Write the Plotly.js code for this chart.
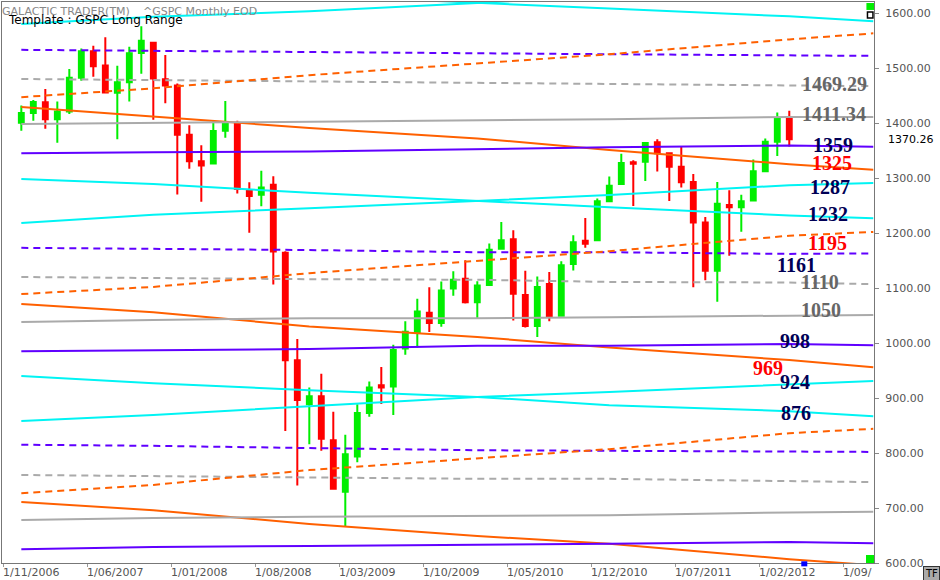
<!DOCTYPE html>
<html><head><meta charset="utf-8">
<script src="https://cdn.plot.ly/plotly-3.0.1.min.js"></script>
<style>html,body{margin:0;padding:0;background:#fff;overflow:hidden}#chart{width:940px;height:580px}</style>
</head><body><div id="chart"></div>
<script>
// ---- candle data (S&P 500 monthly) ----
const months = ['2006-12','2007-01','2007-02','2007-03','2007-04','2007-05','2007-06','2007-07','2007-08','2007-09','2007-10','2007-11','2007-12',
'2008-01','2008-02','2008-03','2008-04','2008-05','2008-06','2008-07','2008-08','2008-09','2008-10','2008-11','2008-12',
'2009-01','2009-02','2009-03','2009-04','2009-05','2009-06','2009-07','2009-08','2009-09','2009-10','2009-11','2009-12',
'2010-01','2010-02','2010-03','2010-04','2010-05','2010-06','2010-07','2010-08','2010-09','2010-10','2010-11','2010-12',
'2011-01','2011-02','2011-03','2011-04','2011-05','2011-06','2011-07','2011-08','2011-09','2011-10','2011-11','2011-12',
'2012-01','2012-02','2012-03','2012-04'];
const openV = [1400.6,1418.0,1437.9,1406.8,1420.8,1482.4,1530.6,1504.7,1455.2,1474.0,1527.3,1545.8,1479.6,
1468.0,1378.6,1330.5,1326.4,1386.0,1399.6,1276.7,1269.4,1287.8,1164.2,968.7,888.6,
903.0,823.1,729.6,793.6,872.7,923.3,920.8,990.2,1019.5,1054.9,1036.2,1098.9,
1116.6,1073.9,1105.4,1171.2,1188.6,1087.3,1031.1,1107.5,1049.7,1143.5,1185.7,1186.6,
1257.6,1289.1,1328.6,1329.5,1365.2,1345.2,1320.6,1292.6,1219.1,1131.2,1251.0,1246.9,
1258.9,1312.5,1365.9,1408.5];
const highV = [1431.8,1441.6,1461.6,1438.9,1498.0,1535.6,1540.6,1555.9,1503.9,1538.7,1576.1,1545.8,1523.6,
1471.8,1396.0,1359.7,1404.6,1440.2,1404.1,1292.2,1313.2,1303.0,1167.0,1007.5,918.9,
943.9,875.0,833.0,888.7,930.2,956.2,996.7,1039.5,1080.4,1101.4,1112.0,1130.4,
1150.5,1112.4,1180.7,1219.8,1205.1,1131.2,1121.0,1129.2,1148.7,1196.1,1227.1,1262.6,
1302.7,1344.1,1332.3,1364.6,1370.6,1345.2,1356.5,1307.4,1229.3,1292.7,1277.6,1269.4,
1333.5,1371.9,1419.2,1422.4];
const lowV = [1385.9,1404.0,1389.4,1364.0,1416.4,1476.7,1484.2,1454.3,1370.6,1439.3,1489.6,1406.1,1435.7,
1270.1,1316.8,1257.0,1324.4,1373.1,1272.0,1200.4,1248.6,1106.4,839.8,741.0,815.7,
804.2,734.5,666.8,783.3,866.1,888.9,869.3,978.5,992.0,1020.2,1029.4,1085.9,
1071.6,1044.5,1105.4,1170.7,1040.8,1028.3,1010.9,1039.7,1049.7,1131.9,1173.0,1186.6,
1257.6,1289.1,1249.1,1294.7,1311.8,1258.1,1282.9,1101.5,1114.2,1074.8,1158.7,1202.4,
1258.9,1312.5,1340.0,1357.4];
const closeV = [1418.3,1438.2,1406.8,1420.9,1482.4,1530.6,1503.4,1455.3,1474.0,1526.8,1549.4,1481.1,1468.4,
1378.6,1330.6,1322.7,1385.6,1400.4,1280.0,1267.4,1282.8,1166.4,968.8,896.2,903.3,
825.9,735.1,797.9,872.8,919.1,919.3,987.5,1020.6,1057.1,1036.2,1095.6,1115.1,
1073.9,1104.5,1169.4,1186.7,1089.4,1030.7,1101.6,1049.3,1141.2,1183.3,1180.6,1257.6,
1286.1,1327.2,1325.8,1363.6,1345.2,1320.6,1292.3,1218.9,1131.4,1253.3,1247.0,1257.6,
1312.4,1365.7,1408.5,1370.26];

// ---- level lines, read at these months ----
const lineMonths = ['2006-12','2007-11','2008-12','2010-02','2011-01','2012-04','2012-11'];
const cyanTopAsc   = [1580,1593,1603,1618,1632,1645,1652];
const cyanTopDesc  = [1660,1645,1632,1618,1608,1594,1585];
const purpleDashU  = [1533,1531,1529,1526,1525,1523,1522];
const grayDashU    = [1480,1478,1475,1473,1471,1469,1467];
const orangeDashU  = [1447,1463,1487,1509,1525,1552,1563];
const orangeSolidU = [1429,1411,1391,1372,1351,1325,1315];
const graySolidU   = [1398,1400,1402,1405,1407,1411,1411];
const purpleSolidU = [1345,1347,1348,1353,1356,1359,1357];
const cyanMidDesc  = [1298,1289,1273,1258,1247,1232,1227];
const cyanMidAsc   = [1218,1233,1245,1258,1269,1287,1291];
const purpleDashM  = [1173,1171,1169,1165,1165,1162,1163];
const grayDashM    = [1120,1118,1116,1115,1111,1110,1107];
const orangeDashM  = [1089,1102,1127,1149,1167,1195,1202];
const orangeSolidM = [1071,1056,1030,1011,992,969,956];
const graySolidM   = [1038,1042,1045,1045,1047,1050,1051];
const purpleSolidM = [985,987,989,995,995,998,996];
const cyanLowDesc  = [940,927,914,902,887,876,867];
const cyanLowAsc   = [858,869,885,902,911,924,931];
const purpleDashL  = [815,813,809,805,804,802,802];
const grayDashL    = [760,758,756,753,753,748,747];
const orangeDashL  = [727,742,769,791,807,836,844];
const orangeSolidL = [711,696,671,649,635,607,596];
const graySolidL   = [678,682,684,685,687,692,693];
const purpleSolidL = [625,629,631,634,635,638,636];

// ---- labels ----
const levelLabels = ['1469.29','1411.34','1359','1325','1287','1232','1195','1161','1110','1050','998','969','924','876'];
const lastPrice = 1370.26;
const yTickVals = [600,700,800,900,1000,1100,1200,1300,1400,1500,1600];
const xTickMonths = ['2006-11','2007-06','2008-01','2008-08','2009-03','2009-10','2010-05','2010-12','2011-07','2012-02','2012-09'];
const xTickLabels = ['1/11/2006','1/06/2007','1/01/2008','1/08/2008','1/03/2009','1/10/2009','1/05/2010','1/12/2010','1/07/2011','1/02/2012','1/09/'];

// month -> axis position (months since Nov 2006, centred in month)
function monthIdx(m){const p=m.split('-').map(Number);return (p[0]-2006)*12+(p[1]-11);}
function monthPos(m){return monthIdx(m)+0.5;}

const CYAN='#00f4f4', PURPLE='#6000ff', ORANGE='#ff6000', GRAY='#aaaaaa';
const DASH='7px,5px';
const lineSpecs = [
 [cyanTopAsc,CYAN,'solid'],[cyanTopDesc,CYAN,'solid'],
 [purpleDashU,PURPLE,DASH],[grayDashU,GRAY,DASH],[orangeDashU,ORANGE,DASH],
 [orangeSolidU,ORANGE,'solid'],[graySolidU,GRAY,'solid'],[purpleSolidU,PURPLE,'solid'],
 [cyanMidDesc,CYAN,'solid'],[cyanMidAsc,CYAN,'solid'],
 [purpleDashM,PURPLE,DASH],[grayDashM,GRAY,DASH],[orangeDashM,ORANGE,DASH],
 [orangeSolidM,ORANGE,'solid'],[graySolidM,GRAY,'solid'],[purpleSolidM,PURPLE,'solid'],
 [cyanLowDesc,CYAN,'solid'],[cyanLowAsc,CYAN,'solid'],
 [purpleDashL,PURPLE,DASH],[grayDashL,GRAY,DASH],[orangeDashL,ORANGE,DASH],
 [orangeSolidL,ORANGE,'solid'],[graySolidL,GRAY,'solid'],[purpleSolidL,PURPLE,'solid']
];

const traces = [{
  type:'candlestick', x:months.map(monthPos), open:openV, high:highV, low:lowV, close:closeV,
  increasing:{line:{color:'#00ee00',width:2},fillcolor:'#00ee00'},
  decreasing:{line:{color:'#ff0000',width:2},fillcolor:'#ff0000'},
  whiskerwidth:0, hoverinfo:'skip', showlegend:false
}];
const lx = lineMonths.map(monthPos);
lineSpecs.forEach(s=>traces.push({type:'scatter',mode:'lines',x:lx,y:s[0],
  line:{color:s[1],width:2,dash:s[2]},hoverinfo:'skip',showlegend:false}));

// label placement (layout)
const labelStyle = {
 '1469.29':['#666',66.6,1471],'1411.34':['#666',66.6,1416],'1359':['#000055',67.5,1360],'1325':['#ff0000',67.4,1327],
 '1287':['#000055',67.2,1284],'1232':['#000055',67.1,1234],'1195':['#ff0000',67.1,1182],'1161':['#000055',64.5,1142],
 '1110':['#666',66.5,1111],'1050':['#666',66.5,1060],'998':['#000055',64.7,1004],'969':['#ff0000',62.5,955],
 '924':['#000055',64.7,929],'876':['#000055',64.8,873]
};
const ann = [];
levelLabels.forEach(t=>{const s=labelStyle[t];ann.push({text:'<b>'+t+'</b>',x:s[1],y:s[2],xref:'x',yref:'y',xanchor:'left',yanchor:'middle',
  xshift:-2,showarrow:false,font:{family:'Liberation Serif',size:20,color:s[0]}});});
xTickMonths.forEach((m,i)=>ann.push({text:xTickLabels[i],x:monthIdx(m),y:0,xref:'x',yref:'paper',xanchor:'left',yanchor:'top',
  xshift:-2,yshift:-1,showarrow:false,font:{family:'DejaVu Sans',size:11,color:'#555'}}));
ann.push({text:lastPrice.toFixed(2),x:1.0,xshift:12,y:lastPrice,xref:'paper',yref:'y',xanchor:'left',yanchor:'middle',showarrow:false,
  font:{family:'DejaVu Sans',size:11,color:'#000'}});
ann.push({text:'GALACTIC TRADER(TM)',x:0,y:1,xref:'paper',yref:'paper',xanchor:'left',yanchor:'top',xshift:-2,yshift:-1,showarrow:false,
  font:{family:'DejaVu Sans',size:11,color:'#888'}});
ann.push({text:'^GSPC Monthly EOD',x:0,y:1,xref:'paper',yref:'paper',xanchor:'left',yanchor:'top',xshift:139,yshift:-1,showarrow:false,
  font:{family:'DejaVu Sans',size:11,color:'#888'}});
ann.push({text:'Template : GSPC Long Range',x:0,y:1,xref:'paper',yref:'paper',xanchor:'left',yanchor:'top',xshift:4,yshift:-9,showarrow:false,
  font:{family:'DejaVu Sans',size:12,color:'#000'}});
ann.push({text:'TF',x:1,y:0,xref:'paper',yref:'paper',xanchor:'right',yanchor:'top',xshift:66,yshift:-3,showarrow:false,
  bgcolor:'#aaa',bordercolor:'#333',borderwidth:1,borderpad:1,font:{family:'DejaVu Sans',size:10,color:'#000'}});

const layout = {
  width:940, height:580, margin:{l:2,r:66,t:2,b:17,pad:0},
  paper_bgcolor:'#fff', plot_bgcolor:'#fff', showlegend:false, boxgap:0.42, dragmode:false,
  xaxis:{range:[-0.11,72.56], showgrid:false, zeroline:false, showline:true, mirror:true, linecolor:'#777', linewidth:1,
    tickvals:xTickMonths.map(monthIdx), showticklabels:false, ticks:'outside', ticklen:3, tickcolor:'#999',
    rangeslider:{visible:false}, fixedrange:true},
  yaxis:{side:'right', range:[600,1620], tickvals:yTickVals, tickformat:'.2f', ticks:'outside', ticklen:4, tickcolor:'#888',
    showline:true, mirror:true, linecolor:'#777', linewidth:1, showgrid:false, zeroline:false, fixedrange:true,
    ticklabelstandoff:4, tickfont:{family:'DejaVu Sans',size:11,color:'#555'}},
  annotations:ann,
  shapes:[
    {type:'rect',xref:'paper',yref:'paper',x0:0.9913,x1:1,y0:0.9858,y1:0.9982,fillcolor:'#00ee00',line:{width:0}},
    {type:'rect',xref:'paper',yref:'paper',x0:0.9925,x1:0.9988,y0:0.9715,y1:0.9822,fillcolor:'#fff',line:{color:'#000',width:1.5}},
    {type:'rect',xref:'paper',yref:'paper',x0:0.9908,x1:1,y0:0,y1:0.0143,fillcolor:'#00ee00',line:{width:0}},
    {type:'rect',xref:'x',yref:'paper',x0:66.5,x1:67.0,y0:-0.006,y1:0.003,fillcolor:'#0000ff',line:{width:0}}
  ]
};
Plotly.newPlot('chart', traces, layout, {staticPlot:true, displayModeBar:false});
</script></body></html>
